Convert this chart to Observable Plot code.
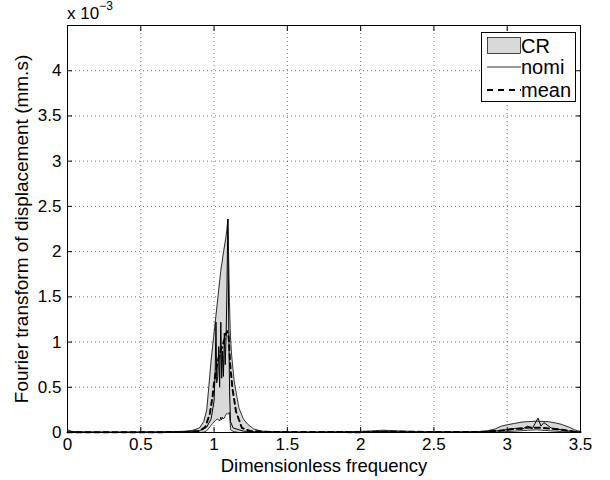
<!DOCTYPE html>
<html><head><meta charset="utf-8">
<script src="https://cdn.jsdelivr.net/npm/d3@7"></script>
<script src="https://cdn.jsdelivr.net/npm/@observablehq/plot@0.6"></script>
<style>
body{margin:0;background:#fff;font-family:"Liberation Sans",Arial,sans-serif;}
#wrap{position:relative;width:610px;height:480px;}
#exp{position:absolute;left:67px;top:1px;font-size:17px;color:#000;white-space:nowrap;}
#exp sup{font-size:12px;position:relative;top:-2px;}
#legend{position:absolute;left:481px;top:32px;}
</style></head>
<body>
<div id="wrap">
<div id="chart"></div>
<div id="exp">x 10<sup>−3</sup></div>
<svg id="legend" width="96" height="71" font-family="Liberation Sans, Arial, sans-serif" font-size="20">
  <rect x="0.5" y="0.5" width="94" height="69" fill="#fff" stroke="#000" stroke-width="1"/>
  <rect x="6.5" y="5.5" width="33" height="16" fill="#d9d9d9" stroke="#000" stroke-width="0.7"/>
  <text x="40" y="20.5">CR</text>
  <line x1="6" y1="35" x2="40" y2="35" stroke="#000" stroke-width="0.8"/>
  <text x="40" y="42">nomi</text>
  <line x1="6" y1="58" x2="40" y2="58" stroke="#000" stroke-width="2" stroke-dasharray="6,5"/>
  <text x="40" y="65">mean</text>
</svg>
</div>
<script>
const xTicks = [0, 0.5, 1, 1.5, 2, 2.5, 3, 3.5];
const yTicks = [0, 0.5, 1, 1.5, 2, 2.5, 3, 3.5, 4];
const xLabel = "Dimensionless frequency";
const yLabel = "Fourier transform of displacement (mm.s)";

// values in units of 1e-3
const bandFreq = [0, 0.03, 0.1, 0.3, 0.5, 0.7, 0.8, 0.85, 0.9, 0.93, 0.95, 0.965, 0.98, 0.99, 1.0, 1.02, 1.04, 1.045, 1.05, 1.055, 1.06, 1.07, 1.08, 1.088, 1.094, 1.1, 1.105, 1.11, 1.114, 1.12, 1.137, 1.155, 1.17, 1.2, 1.23, 1.27, 1.32, 1.4, 1.6, 1.9, 2.05, 2.15, 2.25, 2.4, 2.7, 2.85, 2.92, 2.96, 3.0, 3.05, 3.1, 3.14, 3.2, 3.28, 3.33, 3.37, 3.42, 3.46, 3.5];
const bandLow  = [0, 0, 0, 0, 0, 0, 0, 0, 0, 0.004, 0.02, 0.05, 0.08, 0.1, 0.12, 0.15, 0.13, 0.17, 0.14, 0.17, 0.15, 0.16, 0.2, 0.21, 0.2, 0.22, 0.22, 0.1, 0.03, 0.02, 0.01, 0.005, 0, 0, 0, 0, 0, 0, 0, 0, 0.002, 0.004, 0.003, 0, 0, 0.002, 0.005, 0.008, 0.01, 0.015, 0.02, 0.025, 0.03, 0.02, 0.015, 0.01, 0.006, 0.003, 0.001];
const bandHigh = [0.03, 0.012, 0.006, 0.004, 0.005, 0.008, 0.013, 0.022, 0.05, 0.12, 0.25, 0.52, 0.8, 0.95, 1.1, 1.4, 1.7, 1.78, 1.84, 1.88, 1.95, 2.05, 2.15, 2.25, 2.36, 1.9, 1.45, 1.15, 1.0, 0.85, 0.57, 0.4, 0.27, 0.15, 0.09, 0.04, 0.015, 0.008, 0.005, 0.008, 0.015, 0.025, 0.018, 0.008, 0.006, 0.012, 0.04, 0.07, 0.085, 0.1, 0.115, 0.12, 0.125, 0.12, 0.105, 0.09, 0.06, 0.03, 0.01];

const nomiFreq = [0, 0.3, 0.6, 0.8, 0.9, 0.95, 0.98, 1.0, 1.008, 1.013, 1.018, 1.025, 1.032, 1.038, 1.046, 1.052, 1.058, 1.064, 1.07, 1.076, 1.082, 1.088, 1.094, 1.1, 1.106, 1.112, 1.13, 1.2, 1.3, 1.6, 2.0, 2.15, 2.3, 2.8, 2.95, 3.05, 3.1, 3.14, 3.17, 3.19, 3.21, 3.23, 3.25, 3.3, 3.4, 3.5];
const nomiVal  = [0.004, 0.003, 0.004, 0.008, 0.02, 0.06, 0.15, 0.35, 0.7, 1.22, 0.55, 0.62, 0.95, 0.5, 1.22, 0.6, 0.9, 0.62, 1.1, 0.75, 1.05, 1.6, 2.36, 1.2, 0.45, 0.12, 0.05, 0.015, 0.006, 0.003, 0.004, 0.01, 0.004, 0.005, 0.02, 0.045, 0.035, 0.07, 0.04, 0.1, 0.16, 0.07, 0.11, 0.05, 0.02, 0.005];

const meanFreq = [0, 0.5, 0.8, 0.9, 0.94, 0.97, 0.99, 1.0, 1.02, 1.04, 1.06, 1.08, 1.09, 1.1, 1.11, 1.125, 1.15, 1.19, 1.25, 1.4, 2.0, 2.2, 2.8, 2.95, 3.05, 3.15, 3.25, 3.35, 3.45, 3.5];
const meanVal  = [0.003, 0.003, 0.005, 0.015, 0.06, 0.2, 0.4, 0.55, 0.75, 0.88, 0.97, 1.08, 1.12, 1.05, 0.75, 0.49, 0.23, 0.05, 0.015, 0.005, 0.004, 0.008, 0.005, 0.02, 0.04, 0.055, 0.05, 0.035, 0.012, 0.005];

const band = bandFreq.map((f, i) => ({f, lo: bandLow[i], hi: bandHigh[i]}));
const nomi = nomiFreq.map((f, i) => ({f, v: nomiVal[i]}));
const mean = meanFreq.map((f, i) => ({f, v: meanVal[i]}));
const fmt = d => String(d);

const chart = Plot.plot({
  width: 610, height: 480,
  marginLeft: 67, marginRight: 30, marginTop: 25, marginBottom: 48,
  style: {fontFamily: "Liberation Sans, Arial, sans-serif", fontSize: "17px", color: "#000", background: "#fff", overflow: "visible"},
  x: {domain: [0, 3.5]},
  y: {domain: [0, 4.5]},
  marks: [
    Plot.gridX(xTicks, {stroke: "#000", strokeOpacity: 0.55, strokeDasharray: "1,3"}),
    Plot.gridY(yTicks, {stroke: "#000", strokeOpacity: 0.55, strokeDasharray: "1,3"}),
    Plot.areaY(band, {x: "f", y1: "lo", y2: "hi", fill: "#d9d9d9"}),
    Plot.line(band, {x: "f", y: "hi", stroke: "#000", strokeWidth: 0.8}),
    Plot.line(band, {x: "f", y: "lo", stroke: "#000", strokeWidth: 0.8}),
    Plot.line(nomi, {x: "f", y: "v", stroke: "#000", strokeWidth: 1}),
    Plot.line(mean, {x: "f", y: "v", stroke: "#000", strokeWidth: 2, strokeDasharray: "5,4"}),
    Plot.frame({stroke: "#000"}),
    Plot.axisX({ticks: xTicks, anchor: "bottom", tickSize: -5, tickFormat: () => "", label: null}),
    Plot.axisX({ticks: xTicks, anchor: "top", tickSize: -5, tickFormat: () => "", label: null}),
    Plot.axisY({ticks: yTicks, anchor: "left", tickSize: -5, tickFormat: () => "", label: null}),
    Plot.axisY({ticks: yTicks, anchor: "right", tickSize: -5, tickFormat: () => "", label: null}),
    Plot.axisX({ticks: xTicks, anchor: "bottom", tickSize: 0, tickPadding: 5, tickFormat: fmt, label: null}),
    Plot.axisY({ticks: yTicks, anchor: "left", tickSize: 0, tickPadding: 6, tickFormat: fmt, label: null}),
    Plot.text([xLabel], {frameAnchor: "bottom", dy: 34, lineAnchor: "middle", textAnchor: "middle", fontSize: 18.5, fill: "#000"}),
    Plot.text([yLabel], {frameAnchor: "left", dx: -46, rotate: -90, lineAnchor: "middle", textAnchor: "middle", fontSize: 19, fill: "#000"})
  ]
});
document.getElementById("chart").appendChild(chart);
</script>
</body></html>
